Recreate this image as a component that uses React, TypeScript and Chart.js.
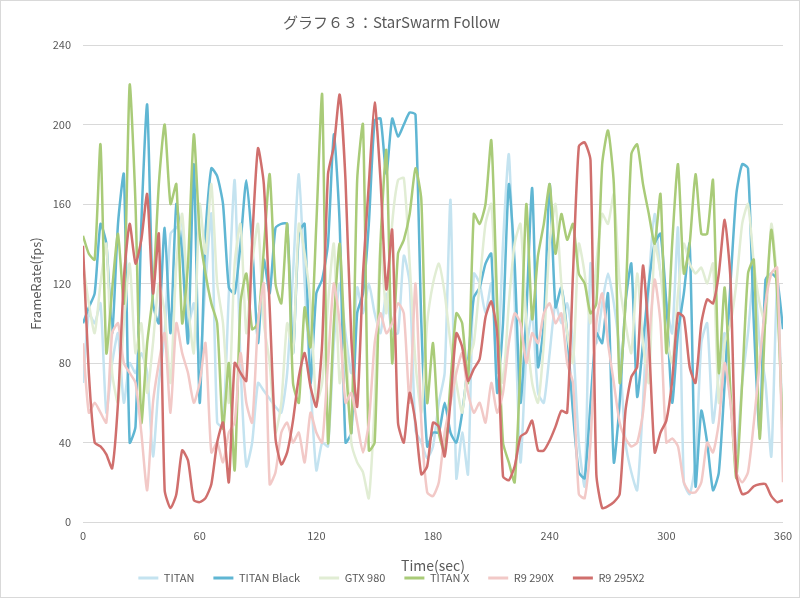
import React, { useEffect, useRef } from "react";
import { Chart, registerables } from "chart.js";

Chart.register(...registerables);

const TITLE = "グラフ６３：StarSwarm Follow";
const X_TITLE = "Time(sec)";
const Y_TITLE = "FrameRate(fps)";
const SERIES_NAMES = ["TITAN", "TITAN Black", "GTX 980", "TITAN X", "R9 290X", "R9 295X2"];

const TIME_SEC = [
  0, 3, 6, 9, 12, 15, 18, 21, 24, 27,
  30, 33, 36, 39, 42, 45, 48, 51, 54, 57,
  60, 63, 66, 69, 72, 75, 78, 81, 84, 87,
  90, 93, 96, 99, 102, 105, 108, 111, 114, 117,
  120, 123, 126, 129, 132, 135, 138, 141, 144, 147,
  150, 153, 156, 159, 162, 165, 168, 171, 174, 177,
  180, 183, 186, 189, 192, 195, 198, 201, 204, 207,
  210, 213, 216, 219, 222, 225, 228, 231, 234, 237,
  240, 243, 246, 249, 252, 255, 258, 261, 264, 267,
  270, 273, 276, 279, 282, 285, 288, 291, 294, 297,
  300, 303, 306, 309, 312, 315, 318, 321, 324, 327,
  330, 333, 336, 339, 342, 345, 348, 351, 354, 357,
  360,
];

const TITAN = [
  70, 105, 100, 110, 55, 80, 95, 60, 80, 75,
  85, 75, 33, 70, 95, 145, 148, 150, 98, 110,
  80, 120, 155, 50, 48, 115, 172, 80, 28, 40,
  70, 66, 62, 58, 55, 75, 125, 175, 120, 70,
  26, 40, 38, 90, 120, 95, 75, 118, 105, 120,
  105, 95, 115, 95, 95, 134, 120, 46, 40, 32,
  38, 60, 75, 162, 22, 45, 24, 125, 120, 105,
  120, 75, 140, 185, 110, 30, 85, 105, 65, 60,
  85, 110, 100, 110, 90, 40, 18, 130, 90, 110,
  125, 110, 85, 40, 25, 16, 60, 120, 155, 125,
  110, 95, 148, 20, 14, 30, 90, 100, 50, 75,
  95, 60, 35, 70, 95, 125, 90, 70, 33, 120,
  40,
];

const TITAN_BLACK = [
  100, 108, 115, 150, 140, 95, 150, 175, 40, 48,
  150, 210, 110, 100, 148, 95, 160, 135, 90, 180,
  60, 145, 178, 174, 160, 118, 115, 140, 172, 140,
  90, 132, 115, 148, 150, 150, 85, 145, 150, 70,
  115, 122, 140, 195, 150, 40, 45, 105, 115, 150,
  202, 203, 175, 203, 194, 200, 206, 205, 100, 38,
  45, 45, 60, 45, 40, 55, 80, 113, 118, 130,
  135, 65, 100, 170, 130, 60, 105, 168, 78, 100,
  170, 108, 118, 95, 55, 25, 22, 60, 95, 90,
  115, 30, 60, 110, 130, 63, 90, 120, 140, 145,
  110, 60, 95, 115, 140, 18, 56, 40, 16, 25,
  70, 120, 165, 180, 178, 100, 45, 122, 125, 122,
  97,
];

const GTX_980 = [
  130, 110, 95, 120, 140, 75, 60, 100, 130, 85,
  100, 65, 90, 120, 105, 70, 130, 155, 110, 85,
  160, 135, 170, 120, 100, 60, 130, 150, 95, 130,
  150, 100, 80, 45, 60, 100, 85, 150, 135, 110,
  60, 70, 110, 140, 70, 90, 40, 30, 25, 12,
  60, 140, 105, 150, 172, 173, 130, 80, 55, 100,
  120, 130, 115, 90, 70, 55, 80, 90, 120, 150,
  160, 100, 70, 110, 140, 150, 100, 70, 60, 90,
  140, 160, 120, 95, 80, 140, 125, 100, 130, 155,
  150, 165, 120, 100, 85, 125, 90, 70, 140, 125,
  95, 80, 115, 140, 130, 125, 128, 120, 130, 60,
  90, 100, 120, 150, 160, 130, 110, 100, 150, 120,
  35,
];

const TITAN_X = [
  144, 135, 132, 190, 85, 117, 145, 110, 220, 160,
  50, 90, 115, 170, 200, 160, 170, 100, 130, 195,
  145, 125, 110, 100, 47, 80, 26, 110, 125, 97,
  100, 137, 175, 120, 110, 150, 70, 60, 108, 88,
  150, 215, 40, 100, 140, 82, 45, 172, 200, 36,
  40, 140, 187, 80, 135, 142, 155, 178, 162, 60,
  90, 45, 35, 70, 105, 100, 70, 155, 150, 160,
  192, 110, 40, 30, 20, 80, 160, 102, 134, 150,
  170, 135, 155, 142, 150, 125, 120, 105, 110, 180,
  197, 170, 70, 110, 185, 190, 170, 155, 140, 165,
  85, 140, 180, 125, 140, 175, 145, 145, 172, 75,
  118, 65, 22, 70, 125, 132, 42, 105, 147, 115,
  40,
];

const R9_290X = [
  90, 55, 60, 55, 50, 95, 100, 80, 75, 70,
  45, 16, 60, 80, 95, 55, 100, 85, 75, 60,
  70, 90, 35, 40, 30, 45, 50, 85, 60, 50,
  100, 120, 19, 25, 45, 50, 40, 45, 30, 55,
  45, 40, 80, 120, 100, 60, 65, 50, 35, 50,
  90, 105, 95, 100, 110, 105, 60, 120, 50, 15,
  13, 20, 45, 60, 75, 85, 65, 55, 60, 50,
  70, 55, 65, 90, 105, 100, 80, 95, 90, 105,
  110, 100, 105, 80, 70, 14, 12, 40, 100, 115,
  90, 70, 50, 42, 38, 40, 55, 90, 122, 100,
  40, 42, 38, 20, 15, 15, 20, 40, 35, 50,
  80, 60, 25, 20, 25, 50, 80, 110, 125, 128,
  20,
];

const R9_295X2 = [
  139, 75, 40, 38, 34, 27, 60, 122, 150, 130,
  142, 165, 115, 145, 16, 7, 14, 36, 31, 11,
  10, 12, 19, 40, 50, 20, 80, 75, 71, 141,
  188, 170, 108, 42, 29, 35, 51, 73, 85, 68,
  58, 90, 175, 189, 215, 172, 92, 58, 125, 170,
  211, 172, 117, 147, 50, 40, 65, 50, 24, 28,
  50, 48, 33, 61, 95, 88, 71, 77, 82, 103,
  111, 95, 23, 21, 28, 43, 45, 51, 36, 36,
  41, 48, 56, 55, 125, 189, 191, 182, 24, 7,
  8, 10, 14, 56, 73, 78, 129, 92, 35, 45,
  51, 71, 105, 103, 78, 70, 100, 112, 110, 125,
  152, 122, 24, 14, 15, 18, 19, 19, 13, 10,
  11,
];

const SERIES_VALUES = [TITAN, TITAN_BLACK, GTX_980, TITAN_X, R9_290X, R9_295X2];
const SERIES_COLORS = ["#c4e3f0", "#5fb6d3", "#e1edd4", "#a9cb78", "#f2c9c7", "#d06f6d"];

const FONT = '"Noto Sans CJK JP", "Noto Sans", sans-serif';
const TEXT = "#595959";

const frame = {
  id: "frame",
  afterDraw(chart: any) {
    const c = chart.ctx;
    c.save();
    c.strokeStyle = "#d9d9d9";
    c.lineWidth = 1;
    c.strokeRect(0.5, 0.5, chart.width - 1, chart.height - 1);
    c.restore();
  },
};

export default function App() {
  const ref = useRef<HTMLCanvasElement>(null);
  useEffect(() => {
    document.body.style.margin = "0";
    const canvas = ref.current;
    if (!canvas) return;
    const datasets = SERIES_NAMES.map((name, i) => ({
      label: name,
      data: SERIES_VALUES[i].map((v, j) => ({ x: TIME_SEC[j], y: v })),
      borderColor: SERIES_COLORS[i],
      backgroundColor: SERIES_COLORS[i],
      borderWidth: 2.5,
      pointRadius: 0,
      tension: 0.2,
      fill: false,
      order: SERIES_NAMES.length - i,
    }));
    const chart = new Chart(canvas, {
      type: "line",
      data: { datasets },
      options: {
        animation: false,
        responsive: false,
        maintainAspectRatio: false,
        layout: { padding: { left: 0, right: 17, top: 0, bottom: 4.5 } },
        plugins: {
          title: {
            display: true,
            text: TITLE,
            color: TEXT,
            font: { family: FONT, size: 15, weight: "normal" },
            padding: { top: 13, bottom: 14 },
          },
          legend: {
            position: "bottom",
            labels: {
              boxWidth: 20,
              boxHeight: 3,
              padding: 19,
              color: TEXT,
              font: { family: FONT, size: 11 },
              sort: (a: any, b: any) => a.datasetIndex - b.datasetIndex,
              generateLabels: (ch: any) =>
                (Chart.defaults.plugins.legend.labels as any)
                  .generateLabels(ch)
                  .map((l: any) => ({ ...l, lineWidth: 0, strokeStyle: "rgba(0,0,0,0)" })),
            },
          },
          tooltip: { enabled: false },
        },
        scales: {
          x: {
            type: "linear",
            min: 0,
            max: 360,
            ticks: { stepSize: 60, color: TEXT, font: { family: FONT, size: 11 }, padding: 7 },
            grid: { display: false, drawTicks: false },
            border: { display: false },
            title: {
              display: true,
              text: X_TITLE,
              color: TEXT,
              font: { family: FONT, size: 14 },
              padding: { top: 0, bottom: -20.3 },
            },
            afterFit: (s: any) => {
              s.height = 31.5;
            },
          },
          y: {
            min: 0,
            max: 240,
            ticks: { stepSize: 40, color: TEXT, font: { family: FONT, size: 11 }, padding: 12 },
            grid: { color: "#d9d9d9", drawTicks: false },
            border: { display: false },
            title: {
              display: true,
              text: Y_TITLE,
              color: TEXT,
              font: { family: FONT, size: 13 },
              padding: { top: 28, bottom: 0 },
            },
            afterFit: (s: any) => {
              s.width = 83;
            },
          },
        },
      } as any,
      plugins: [frame],
    });
    return () => chart.destroy();
  }, []);
  return <canvas ref={ref} width={800} height={598} style={{ display: "block" }} />;
}
